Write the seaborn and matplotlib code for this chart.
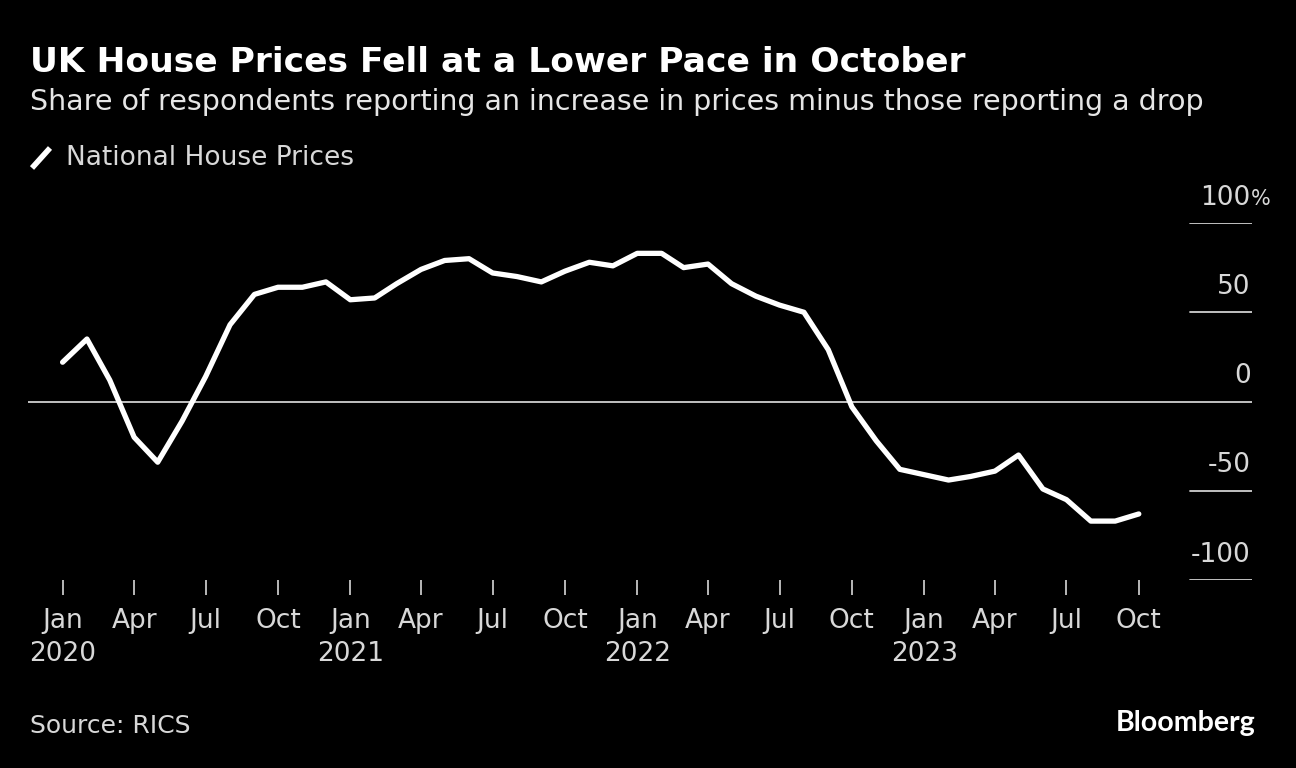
import numpy as np
import pandas as pd
import seaborn as sns
import matplotlib.pyplot as plt
import matplotlib.transforms as mtransforms

# RICS house price balance, Jan 2020 - Oct 2023
months = pd.date_range('2020-01-01', periods=46, freq='MS')
balance = [22, 35, 12, -20, -34, -11, 14, 43, 60, 64, 64, 67,
           57, 58, 66, 74, 79, 80, 72, 70, 67, 73, 78, 76,
           83, 83, 75, 77, 66, 59, 54, 50, 29, -3, -22, -38,
           -41, -44, -42, -39, -30, -49, -55, -67, -67, -63]

tick_dates = pd.date_range('2020-01-01', '2023-10-01', freq='QS')
tick_labels = [d.strftime('%b') + ('\n' + d.strftime('%Y') if d.month == 1 else '') for d in tick_dates]
y_ticks = [100, 50, 0, -50, -100]
y_labels = ['100', '50', '0', '-50', '-100']

df = pd.DataFrame({'date': months, 'National House Prices': balance})

sns.set_style('dark', {'axes.facecolor': 'black', 'figure.facecolor': 'black'})
plt.rcParams['font.family'] = ['DejaVu Sans']

fig = plt.figure(figsize=(12.96, 7.68), dpi=100)
fig.patch.set_facecolor('black')
ax = fig.add_axes([28 / 1296, 1 - 580 / 768, (1252 - 28) / 1296, (580 - 223) / 768])
ax.set_facecolor('black')

sns.lineplot(data=df, x='date', y='National House Prices', ax=ax, color='white',
             linewidth=3.8, legend=False)

ax.set_ylim(-100, 100)
ax.set_xlim(months[0] - pd.Timedelta(days=44), months[-1] + pd.Timedelta(days=144))
for s in ax.spines.values():
    s.set_visible(False)
ax.grid(False)

# short gridlines at the right, full zero line
trans = mtransforms.blended_transform_factory(ax.transAxes, ax.transData)
gx0 = (1190 - 28) / (1252 - 28)
for v, lab in zip(y_ticks, y_labels):
    if v == 0:
        ax.plot([0, 1], [0, 0], transform=trans, color='#d0d0d0', lw=1.3, zorder=1)
    else:
        ax.plot([gx0, 1], [v, v], transform=trans, color='#d0d0d0', lw=1.3, zorder=1)
    ax.text(0.999, v + 7, lab, transform=trans, ha='right', va='bottom',
            color='#d8d8d8', fontsize=19)
ax.text(0.999, 108, '%', transform=trans, ha='left', va='bottom',
        color='#d8d8d8', fontsize=15)

ax.set_yticks([])
ax.set_xticks(tick_dates)
ax.set_xticklabels(tick_labels, color='#d8d8d8', fontsize=19, linespacing=1.35,
                   multialignment='center')
ax.tick_params(axis='x', bottom=True, length=11, width=1.2, color='#d8d8d8', pad=9,
               direction='out')
ax.set_xlabel('')
ax.set_ylabel('')

fig.text(30 / 1296, 1 - 62 / 768, 'UK House Prices Fell at a Lower Pace in October',
         color='white', fontsize=24.8, fontweight='bold', va='center')
fig.text(30 / 1296, 1 - 102 / 768,
         'Share of respondents reporting an increase in prices minus those reporting a drop',
         color='#e6e6e6', fontsize=20.5, va='center')

# legend
fig.add_artist(plt.Line2D([32 / 1296, 50 / 1296], [1 - 168 / 768, 1 - 148 / 768],
                          color='white', lw=4, solid_capstyle='butt'))
fig.text(66 / 1296, 1 - 158 / 768, 'National House Prices', color='#d8d8d8',
         fontsize=19, va='center')

fig.text(30 / 1296, 1 - 726 / 768, 'Source: RICS', color='#d8d8d8', fontsize=18, va='center')
fig.text(1256 / 1296, 1 - 723 / 768, 'Bloomberg', color='white', fontsize=20.5,
         fontweight='bold', va='center', ha='right', family='Lato')

fig.savefig('out.png', dpi=100, facecolor='black')
